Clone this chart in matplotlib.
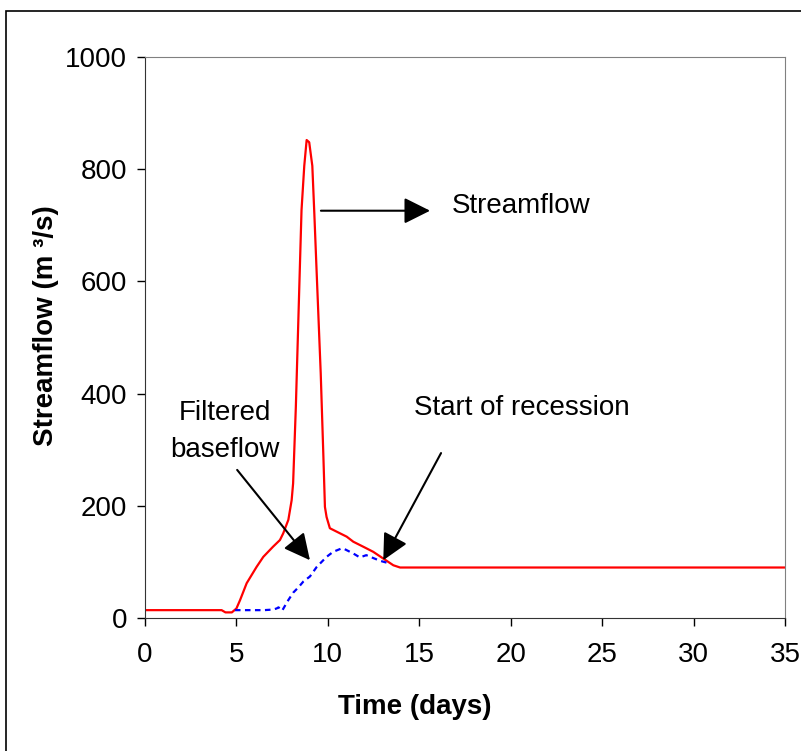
import matplotlib.pyplot as plt
from matplotlib.patches import Rectangle

plt.rcParams['font.family'] = ['Liberation Sans', 'DejaVu Sans']

# streamflow hydrograph (days, m3/s)
t_flow = [0, 4.19, 4.4, 4.75, 5.0, 5.2, 5.56, 6.1, 6.47, 7.0, 7.38, 7.56, 7.84, 8.02,
          8.1, 8.25, 8.47, 8.56, 8.71, 8.84, 8.98, 9.15, 9.26, 9.39, 9.61, 9.75, 9.84,
          9.93, 10.11, 10.66, 11.03, 11.39, 11.94, 12.48, 13.03, 13.58, 13.95, 35]
q_flow = [14, 14, 10, 10, 17, 32, 62, 91, 109, 127, 139, 151, 175, 210,
          240, 377, 626, 727, 806, 852, 848, 806, 721, 614, 436, 294, 198,
          180, 160, 151, 145, 136, 127, 118, 106, 94, 90, 90]

# filtered baseflow
t_base = [4.92, 5.5, 6.0, 6.5, 7.0, 7.2, 7.3, 7.5, 7.8, 8.1, 8.4, 8.66, 9.02, 9.39,
          9.93, 10.29, 10.75, 10.9, 11.39, 11.75, 12.1, 12.85, 13.4]
q_base = [14, 14, 14, 14, 15, 17, 19, 13, 30, 45, 55, 65, 74, 91,
          109, 118, 124, 123, 115, 108, 112, 102, 97]

x_ticks = [0, 5, 10, 15, 20, 25, 30, 35]
y_ticks = [0, 200, 400, 600, 800, 1000]

fig = plt.figure(figsize=(8.01, 7.51), dpi=100)
ax = fig.add_axes([145 / 801, 1 - 618 / 751, 640 / 801, 561 / 751])

# outer border (cut off at right and bottom like the original)
fig.patches.append(Rectangle((6 / 801, -0.1), 1.2, 1.1 - 11 / 751,
                             transform=fig.transFigure, fill=False,
                             edgecolor='black', linewidth=1.2))

ax.plot(t_flow, q_flow, color='red', linewidth=1.6)
ax.plot(t_base, q_base, color='blue', linewidth=1.6, linestyle=(0, (2.5, 2)))

ax.set_xlim(0, 35)
ax.set_ylim(0, 1000)
ax.set_xticks(x_ticks)
ax.set_yticks(y_ticks)
ax.tick_params(direction='out', length=6, width=1, labelsize=20, pad=11)
ax.tick_params(axis='y', pad=7)
for s in ['top', 'right']:
    ax.spines[s].set_color('#808080')
for s in ['left', 'bottom']:
    ax.spines[s].set_color('#333333')

ax.set_xlabel('Time (days)', fontsize=20, fontweight='bold', va='center')
ax.xaxis.set_label_coords(0.421, -0.1586)
ax.set_ylabel('Streamflow (m ³/s)', fontsize=20, fontweight='bold',
              va='center', ha='center')
ax.yaxis.set_label_coords(-0.154, 0.522)

arrow = dict(arrowstyle='-|>,head_length=1.0,head_width=0.5', color='black',
             lw=1.5, mutation_scale=16, shrinkA=0, shrinkB=0)

ax.annotate('', xy=(15.59, 726), xytext=(9.62, 726), arrowprops=arrow)
ax.text(16.79, 734, 'Streamflow', fontsize=20, ha='left', va='center')

ax.annotate('', xy=(9.02, 103), xytext=(5.04, 264), arrowprops=arrow)
ax.text(4.37, 333, 'Filtered\nbaseflow', fontsize=20, ha='center', va='center',
        linespacing=1.55)

ax.annotate('', xy=(13.03, 103), xytext=(16.19, 294), arrowprops=arrow)
ax.text(14.71, 374, 'Start of recession', fontsize=20, ha='left', va='center')

fig.savefig('out.png', dpi=100)
